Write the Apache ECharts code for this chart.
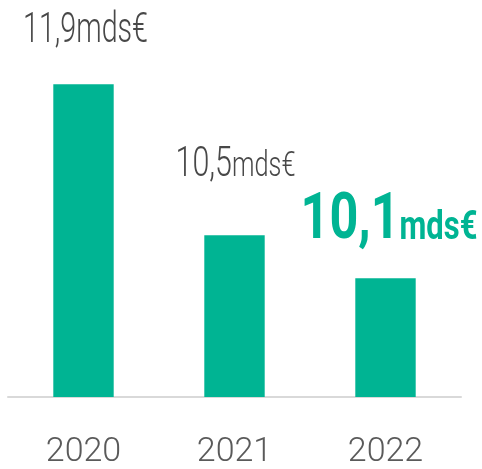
<!DOCTYPE html>
<html><head><meta charset="utf-8">
<script src="https://cdn.jsdelivr.net/npm/echarts@6/dist/echarts.min.js"></script>
<style>html,body{margin:0;padding:0;background:#fff}#c{width:482px;height:469px}</style>
</head><body><div id="c"></div>
<script>
var categories = ['2020', '2021', '2022'];
var values = [11.9, 10.5, 10.1];
var valueTexts = ['11,9', '10,5', '10,1'];
var unit = 'mds€';

var FONT = 'Roboto, "DejaVu Sans Condensed", sans-serif';
var GREEN = '#00b493';
var GREY = '#484848';

// label styles (layout only)
var labelStyles = [
  {gap: 32, dx: 2, width: 125, n: {fontSize: 42, fontWeight: 300, fill: GREY}, u: {fontSize: 42, fontWeight: 300, fill: GREY, pad: 0}},
  {gap: 49, dx: 1, width: 120, n: {fontSize: 42, fontWeight: 300, fill: GREY}, u: {fontSize: 35, fontWeight: 300, fill: GREY, pad: 1}},
  {gap: 24, dx: 3.5, width: 177, n: {fontSize: 65, fontWeight: 'bold', fill: GREEN}, u: {fontSize: 40, fontWeight: 'bold', fill: GREEN, pad: 5}}
];

var measureCtx = document.createElement('canvas').getContext('2d');
function measure(text, st) {
  measureCtx.font = st.fontWeight + ' ' + st.fontSize + 'px ' + FONT;
  return measureCtx.measureText(text).width;
}

var chart = echarts.init(document.getElementById('c'), null, {renderer: 'canvas'});
chart.setOption({
  animation: false,
  grid: {left: 8, right: 21, top: 0, bottom: 68, containLabel: false},
  xAxis: {
    type: 'category', data: categories,
    axisLine: {show: true, lineStyle: {color: '#d9d9d9', width: 2}},
    axisTick: {show: false},
    axisLabel: {color: '#5a5a5a', fontSize: 34, fontWeight: 300, fontFamily: FONT, margin: 38}
  },
  yAxis: {type: 'value', min: 9, max: 12.68, show: false, splitLine: {show: false}},
  series: [{
    type: 'bar', data: values, barWidth: '40%',
    itemStyle: {color: GREEN}
  }, {
    type: 'custom', clip: false, silent: true,
    data: values.map(function (v, i) { return [i, v]; }),
    renderItem: function (params, api) {
      var i = params.dataIndex;
      var s = labelStyles[i];
      var p = api.coord([api.value(0), api.value(1)]);
      var w = measure(valueTexts[i], s.n) + measure(unit, s.u);
      return {
        type: 'text',
        x: p[0] + s.dx, y: p[1] - s.gap,
        scaleX: s.width / w,
        style: {
          text: '{n|' + valueTexts[i] + '}{u|' + unit + '}',
          align: 'center', verticalAlign: 'bottom',
          rich: {
            n: {fontSize: s.n.fontSize, fontWeight: s.n.fontWeight, fontFamily: FONT, fill: s.n.fill, verticalAlign: 'bottom'},
            u: {fontSize: s.u.fontSize, fontWeight: s.u.fontWeight, fontFamily: FONT, fill: s.u.fill, verticalAlign: 'bottom', padding: [0, 0, s.u.pad, 0]}
          }
        }
      };
    }
  }]
});
</script></body></html>
